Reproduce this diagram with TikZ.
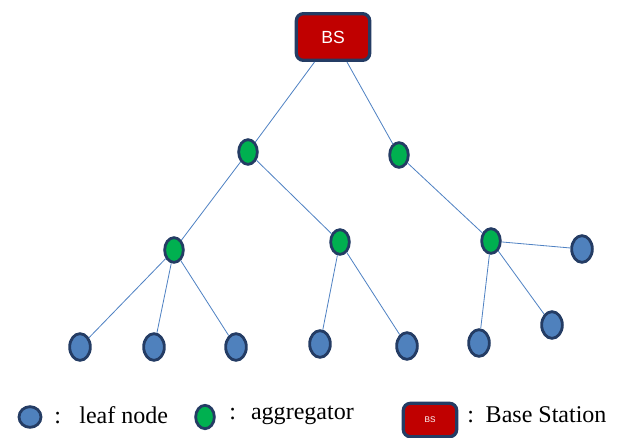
\documentclass[tikz,border=0pt]{standalone}
\usepackage{fontspec}
\setmainfont{Liberation Serif}
\setsansfont{Liberation Sans}
\usetikzlibrary{shapes.geometric}

\definecolor{bsred}{RGB}{192,0,0}
\definecolor{rim}{RGB}{36,60,100}
\definecolor{aggreen}{RGB}{0,176,80}
\definecolor{leafblue}{RGB}{79,129,189}
\definecolor{wire}{RGB}{80,130,195}

\begin{document}
\begin{tikzpicture}[x=0.03cm, y=-0.03cm, line width=2.4pt,
  leaf node/.style={ellipse,draw=rim,fill=leafblue,inner sep=0pt,minimum width=0.62cm,minimum height=0.8cm},
  agg node/.style={ellipse,draw=rim,fill=aggreen,inner sep=0pt,minimum width=0.56cm,minimum height=0.74cm},
  bs node/.style={rectangle,rounded corners=6pt,draw=rim,line width=2.8pt,fill=bsred,text=white,font=\sffamily},
  legend text/.style={font=\fontsize{20.5}{24}\selectfont,anchor=west,inner sep=0pt}]

      \useasboundingbox (0,0) rectangle (623,437);

      \node[bs node,minimum width=2.2cm,minimum height=1.4cm,font=\sffamily\fontsize{15}{17}\selectfont] (bs) at (333,37) {BS};

      % aggregators
      \node[agg node] (a1) at (248,152) {};
      \node[agg node] (a2) at (399,155) {};
      \node[agg node] (a3) at (174,250) {};
      \node[agg node] (a4) at (340,242) {};
      \node[agg node] (a5) at (491,241) {};

      % leaves
      \node[leaf node] (l1) at (80,347) {};
      \node[leaf node] (l2) at (154,347) {};
      \node[leaf node] (l3) at (236,347) {};
      \node[leaf node] (l4) at (320,344) {};
      \node[leaf node] (l5) at (407,346) {};
      \node[leaf node] (l6) at (479,343) {};
      \node[leaf node] (l7) at (552,325) {};
      \node[leaf node] (l8) at (582,249) {};

      \path[draw=wire,line width=0.7pt]
        (bs) edge (a1) (bs) edge (a2)
        (a1) edge (a3) (a1) edge (a4)
        (a2) edge (a5)
        (a3) edge (l1) (a3) edge (l2) (a3) edge (l3)
        (a4) edge (l4) (a4) edge (l5)
        (a5) edge (l6) (a5) edge (l7) (a5) edge (l8);

      % legend
      \node[leaf node,minimum width=0.66cm,minimum height=0.62cm] (kleaf) at (30,417) {};
      \node[legend text] (tleaf) at (53,415) {:\hspace{0.55cm}leaf node};
      \node[agg node,minimum width=0.56cm,minimum height=0.7cm] (kagg) at (205,417) {};
      \node[legend text] (tagg) at (228,415) {:\hspace{0.45cm}aggregator};
      \node[bs node,minimum width=1.6cm,minimum height=1.0cm,font=\sffamily\fontsize{7}{8}\selectfont] (kbs) at (430,420) {BS};
      \node[legend text] (tbs) at (466,415) {:\hspace{0.35cm}Base Station};

    \end{tikzpicture}
\end{document}
